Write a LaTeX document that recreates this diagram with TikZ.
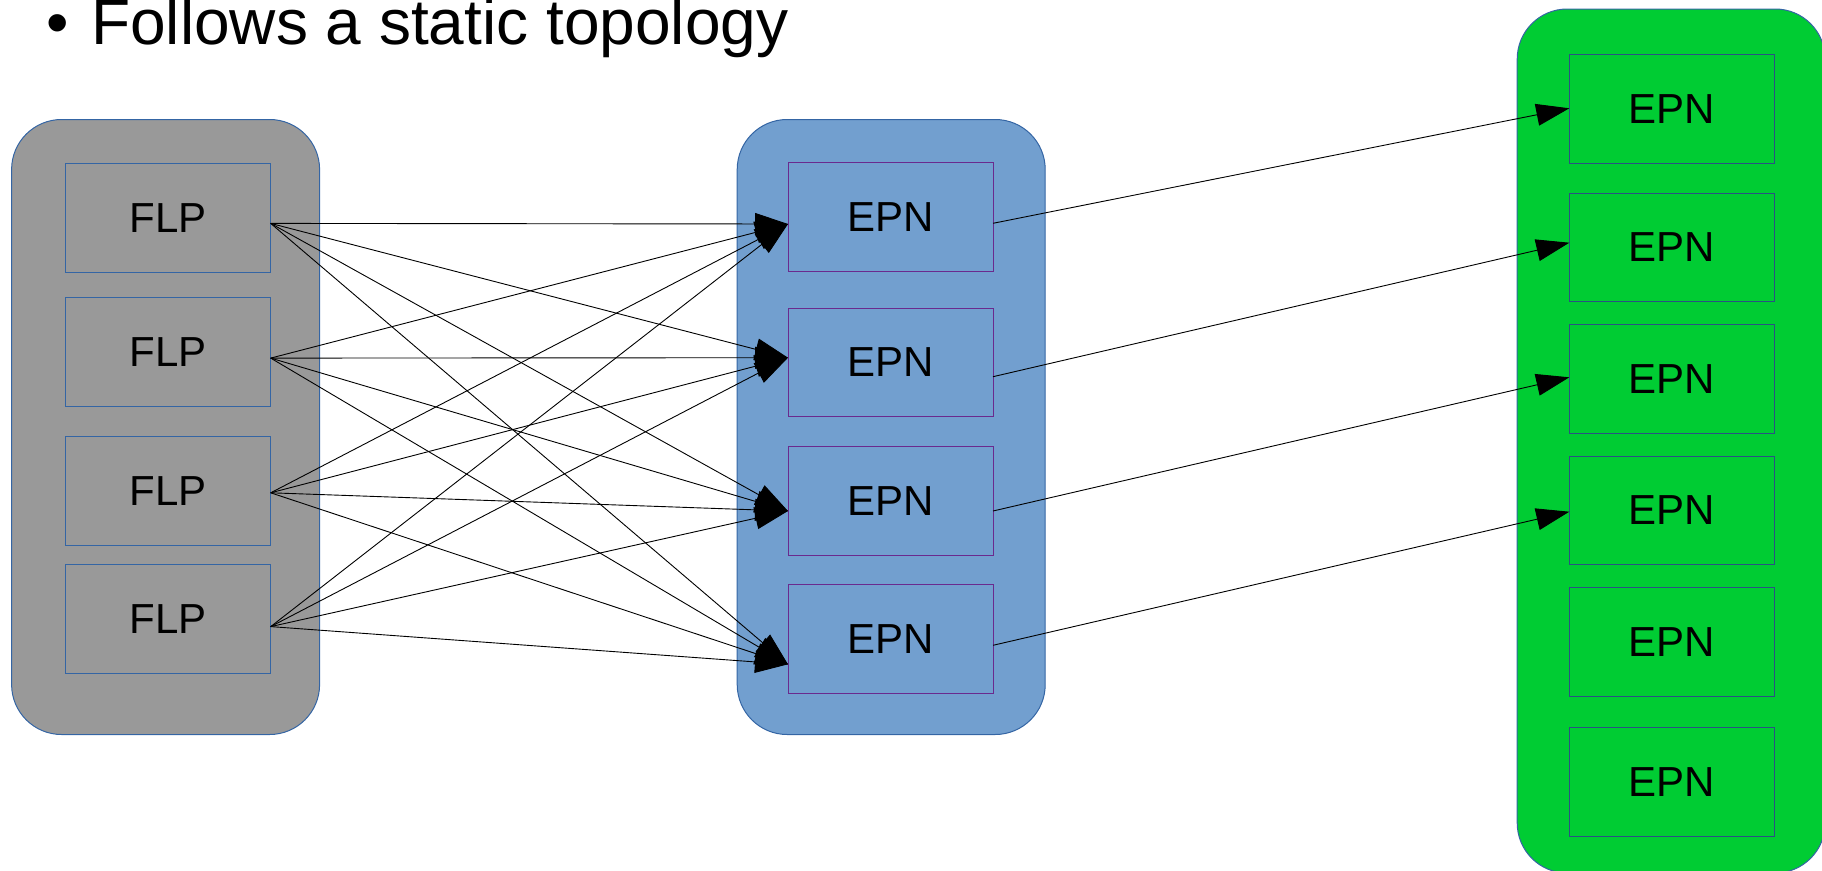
\documentclass[tikz,border=0pt]{standalone}
\usepackage{fontspec}
\setmainfont{Liberation Sans}
\usetikzlibrary{arrows.meta,calc}

\definecolor{frameblue}{HTML}{3465A4}
\definecolor{stonegray}{HTML}{999999}
\definecolor{skyblue}{HTML}{729FCF}
\definecolor{leafgreen}{HTML}{00CC33}
\definecolor{plum}{HTML}{6A2A8E}

\begin{document}
\begin{tikzpicture}[
  x=1pt, y=-1pt,
  tray/.style={draw=frameblue, line width=1pt, rectangle, rounded corners=50pt,
               inner sep=0pt, outer sep=0pt, minimum width=308pt},
  unitbox/.style={rectangle, line width=1pt, inner sep=0pt, outer sep=0pt,
                  minimum width=205pt, minimum height=108.5pt,
                  font=\fontsize{42}{50}\selectfont},
  flpbox/.style={unitbox, draw=frameblue, fill=stonegray},
  epnbox/.style={unitbox, draw=plum, fill=skyblue},
  sinkbox/.style={unitbox, draw=frameblue!80!black, fill=leafgreen},
  link/.style={draw=black, line width=0.9pt,
               -{Triangle[length=33pt,width=22pt]}},
  headline/.style={inner sep=0pt, font=\fontsize{64}{76}\selectfont}
]
\clip (0,0) rectangle (1822,870);

% heading
\node[headline, anchor=base] (bullet) at (58,44) {•};
\node[headline, anchor=base west] (title) at (91,44) {Follows a static topology};

% the three groups
\node[tray, fill=stonegray, minimum height=615pt] (flptray) at (165.6,427) {};
\node[tray, fill=skyblue, minimum height=615pt] (epntray) at (891.2,427) {};
\node[tray, fill=leafgreen, minimum height=864pt] (sinktray) at (1671.2,441) {};

% FLP column
\node[flpbox] (flp1) at (168.2,217.9) {FLP};
\node[flpbox] (flp2) at (168.2,351.8) {FLP};
\node[flpbox] (flp3) at (168.2,490.8) {FLP};
\node[flpbox] (flp4) at (168.2,619.0) {FLP};

% EPN column
\node[epnbox] (epn1) at (890.5,216.9) {EPN};
\node[epnbox] (epn2) at (890.5,362.3) {EPN};
\node[epnbox] (epn3) at (890.5,500.9) {EPN};
\node[epnbox] (epn4) at (890.5,639.0) {EPN};

% receiving EPN column
\node[sinkbox] (sink1) at (1671.8,109.1) {EPN};
\node[sinkbox] (sink2) at (1671.8,247.5) {EPN};
\node[sinkbox] (sink3) at (1671.8,379.0) {EPN};
\node[sinkbox] (sink4) at (1671.8,510.5) {EPN};
\node[sinkbox] (sink5) at (1671.8,642.2) {EPN};
\node[sinkbox] (sink6) at (1671.8,782.0) {EPN};

% connection points on the box sides
\foreach \i/\d in {1/5.5, 2/6.3, 3/2.0, 4/7.6}
  \coordinate (fout\i) at ($(flp\i.east)+(0,\d)$);
\foreach \i/\d in {1/7.1, 2/-4.6, 3/10.1, 4/25.3}
  \coordinate (ein\i) at ($(epn\i.west)+(0,\d)$);
\foreach \i/\d in {1/6.4, 2/14.4, 3/10.1, 4/6.3}
  \coordinate (eout\i) at ($(epn\i.east)+(0,\d)$);
\foreach \i/\d in {1/-0.8, 2/-4.8, 3/-1.7, 4/1.2}
  \coordinate (sin\i) at ($(sink\i.west)+(0,\d)$);

% every FLP feeds every EPN
\foreach \i in {1,...,4}
  \foreach \j in {1,...,4}
    \draw[link] (fout\i) -- (ein\j);

% each EPN forwards to one receiving EPN
\foreach \i in {1,...,4}
  \draw[link] (eout\i) -- (sin\i);
\end{tikzpicture}
\end{document}
